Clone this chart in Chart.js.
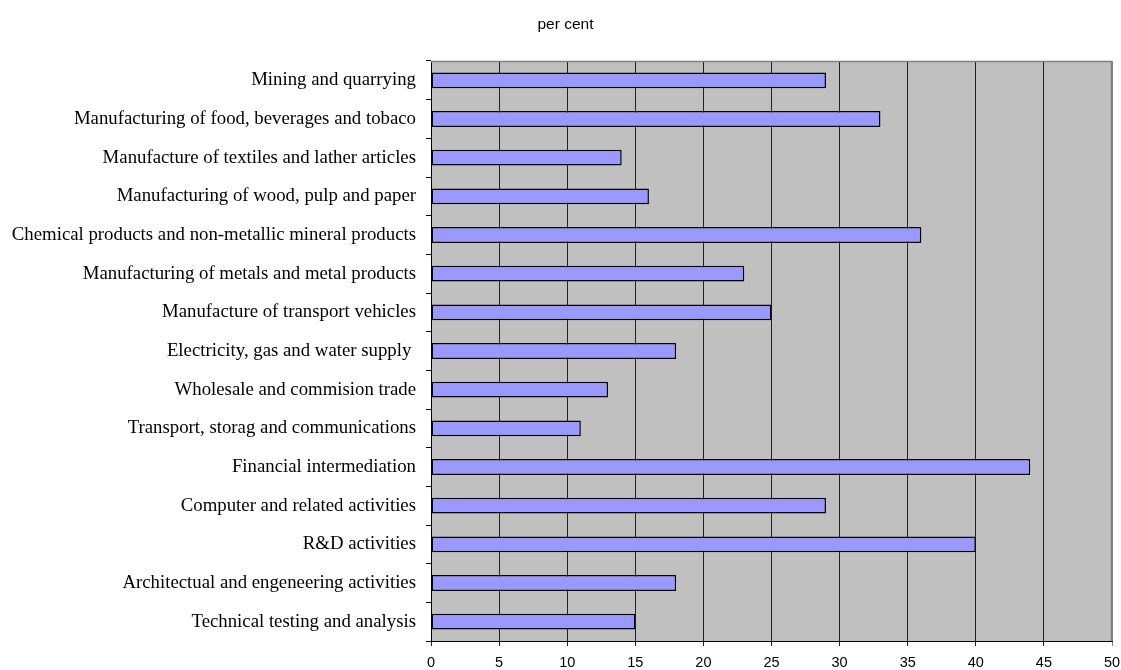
<!DOCTYPE html>
<html>
<head>
<meta charset="utf-8">
<script src="https://cdn.jsdelivr.net/npm/chart.js@4/dist/chart.umd.min.js"></script>
<style>
  html, body { margin: 0; padding: 0; background: #ffffff; }
  #wrap { width: 1121px; height: 670px; }
</style>
</head>
<body>
<div id="wrap"><canvas id="c" width="1121" height="670"></canvas></div>
<script>
// Industries, top to bottom
const industries = [
  "Mining and quarrying",
  "Manufacturing of food, beverages and tobaco",
  "Manufacture of textiles and lather articles",
  "Manufacturing of wood, pulp and paper",
  "Chemical products and non-metallic mineral products",
  "Manufacturing of metals and metal products",
  "Manufacture of transport vehicles",
  "Electricity, gas and water supply ",
  "Wholesale and commision trade",
  "Transport, storag and communications",
  "Financial intermediation",
  "Computer and related activities",
  "R&D activities",
  "Architectual and engeneering activities",
  "Technical testing and analysis"
];

// Share, per cent
const shares = [29, 33, 14, 16, 36, 23, 25, 18, 13, 11, 44, 29, 40, 18, 15];

// Horizontal axis
const axisMin = 0;
const axisMax = 50;
const axisStep = 5;

const unitLabel = 'per cent';

// Grey plot area, grey top/right frame and the unit caption above the plot
const plotFrame = {
  id: 'plotFrame',
  beforeDraw(chart) {
    const { ctx, chartArea: a } = chart;
    ctx.save();
    ctx.fillStyle = '#c0c0c0';
    ctx.fillRect(a.left, a.top, a.right - a.left, a.bottom - a.top);
    ctx.fillStyle = '#000000';
    ctx.font = '15.5px "Liberation Sans", Arial, sans-serif';
    ctx.textAlign = 'center';
    ctx.textBaseline = 'middle';
    ctx.fillText(unitLabel, 565.5, 25);
    ctx.restore();
  },
  beforeDatasetsDraw(chart) {
    const { ctx, chartArea: a } = chart;
    ctx.save();
    ctx.strokeStyle = '#808080';
    ctx.lineWidth = 1.5;
    ctx.beginPath();
    ctx.moveTo(a.left, a.top + 0.5);
    ctx.lineTo(a.right - 0.5, a.top + 0.5);
    ctx.lineTo(a.right - 0.5, a.bottom);
    ctx.stroke();
    ctx.restore();
  }
};

new Chart(document.getElementById('c'), {
  type: 'bar',
  data: {
    labels: industries,
    datasets: [{
      data: shares,
      backgroundColor: '#9999ff',
      borderColor: '#000000',
      borderWidth: 1.5,
      borderSkipped: false,
      categoryPercentage: 1.0,
      barPercentage: 0.41
    }]
  },
  options: {
    indexAxis: 'y',
    responsive: false,
    animation: false,
    devicePixelRatio: 1,
    layout: { padding: { left: 0, right: 0, top: 61, bottom: 0 } },
    plugins: {
      legend: { display: false },
      tooltip: { enabled: false },
      title: { display: false }
    },
    scales: {
      x: {
        type: 'linear',
        min: axisMin,
        max: axisMax,
        ticks: {
          stepSize: axisStep,
          color: '#000000',
          padding: 8,
          font: { family: '"Liberation Sans", Arial, sans-serif', size: 14.5 }
        },
        grid: {
          color: (c) => c.index === 10 ? '#808080' : '#222222',
          lineWidth: 1,
          tickLength: 5,
          drawOnChartArea: true
        },
        border: { color: '#000000', width: 1 },
        afterFit(scale) {
          scale.height = 29;
          scale.paddingLeft = 0;
          scale.paddingRight = 9;
        }
      },
      y: {
        type: 'category',
        offset: true,
        ticks: {
          color: '#000000',
          padding: 10,
          autoSkip: false,
          font: { family: '"Liberation Serif", "Times New Roman", serif', size: 18.8 }
        },
        grid: {
          offset: true,
          drawOnChartArea: false,
          color: '#000000',
          tickLength: 5
        },
        border: { color: '#000000', width: 1 },
        afterFit(scale) { scale.width = 431; }
      }
    }
  },
  plugins: [plotFrame]
});
</script>
</body>
</html>
